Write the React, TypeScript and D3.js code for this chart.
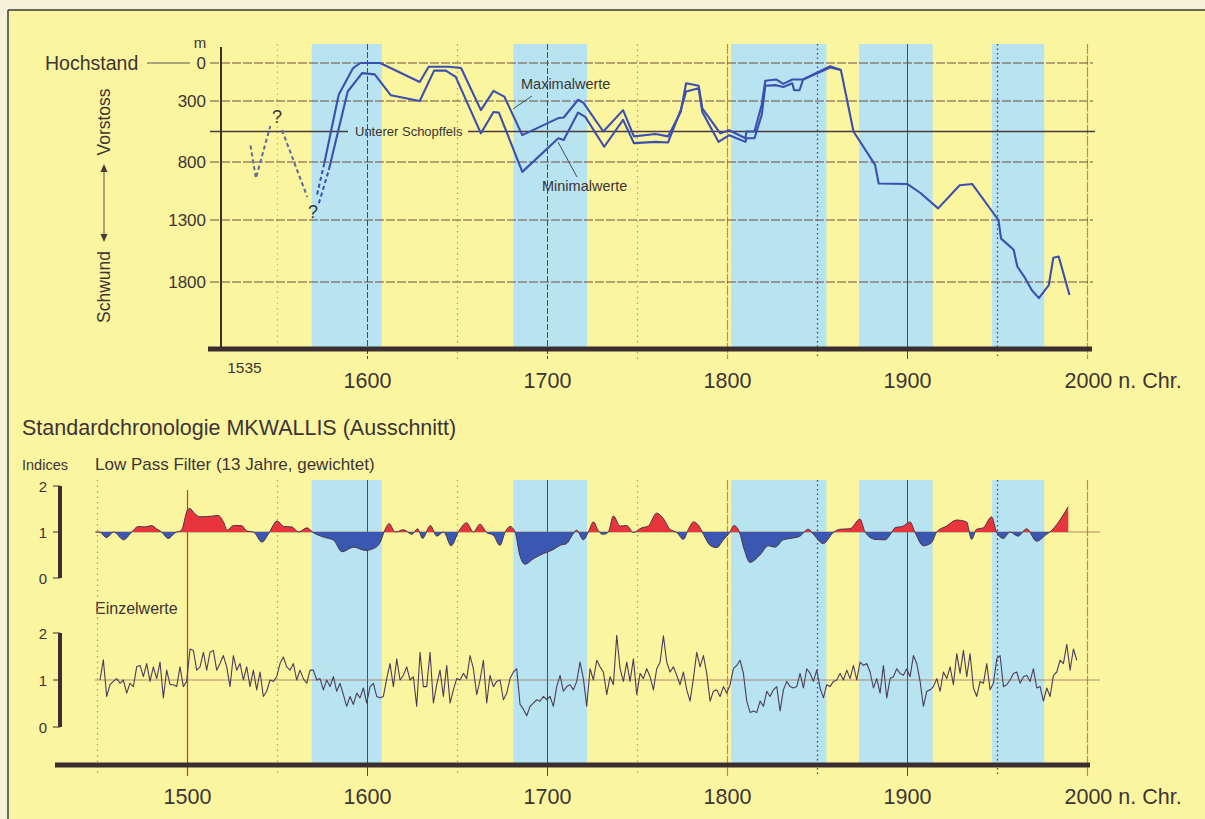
import React from "react";
import * as d3 from "d3";

const W = 1205;
const H = 819;
const FONT = "'Liberation Sans', Arial, Helvetica, sans-serif";
const TXT = "#3b3434";

// Kaltphasen (blaue Bänder), Jahre
const coldPhases: [number, number][] = [
  [1569, 1608], [1681, 1722], [1802, 1855], [1873, 1914], [1947, 1976],
];

// Gletscherstand oben, m unter Hochstand
const depthTicks = [0, 300, 800, 1300, 1800];
const schopffels = 550;
const topYearLabels = [1600, 1700, 1800, 1900, 2000];
const bottomYearLabels = [1500, 1600, 1700, 1800, 1900, 2000];

const earlyA: [number, number][] = [[1535, 665], [1538, 940], [1546, 505]];
const earlyB: [number, number][] = [[1552.5, 538], [1566.5, 1100]];
const maxDashed: [number, number][] = [[1572, 1080], [1576, 810]];
const minDashed: [number, number][] = [[1573, 1155], [1578.5, 870]];

const maxValues: [number, number][] = [
  [1576, 810], [1584, 250], [1592, 40], [1596, 0], [1607, 0], [1629, 150], [1634, 30],
  [1645, 30], [1652, 40], [1663, 375], [1670, 220], [1676, 265], [1686, 580], [1706, 440],
  [1709, 435], [1717, 290], [1720, 315], [1731, 550], [1742, 375], [1748, 590], [1760, 570],
  [1767, 590], [1774, 390], [1777, 160], [1784, 180], [1786, 360], [1796, 565], [1801, 540],
  [1810, 605], [1810.5, 550], [1815, 550], [1819, 330], [1821, 140], [1827, 130], [1831, 165],
  [1836, 130], [1842, 130], [1857, 25], [1863, 55], [1870, 550], [1882, 825], [1884, 985],
  [1900, 990], [1907, 1065], [1917, 1200], [1929, 1000], [1936, 990], [1950.5, 1300],
  [1952, 1450], [1959, 1540], [1961, 1675], [1965, 1760], [1969, 1865], [1973, 1930],
  [1978.5, 1825], [1981, 1605], [1984, 1595], [1990, 1905],
];

const minValues: [number, number][] = [
  [1578.5, 870], [1589, 225], [1597, 80], [1604, 90], [1613, 255], [1629, 300], [1637, 60],
  [1643.5, 60], [1649, 110], [1663, 565], [1670, 390], [1673, 395], [1686, 885], [1706, 605],
  [1709, 620], [1717, 395], [1721, 430], [1731.5, 675], [1742, 455], [1748, 645], [1760, 635],
  [1767, 640], [1774, 375], [1777, 225], [1784, 200], [1786, 390], [1795, 635], [1801, 580],
  [1810, 635], [1810.5, 605], [1815, 605], [1819, 415], [1821, 180], [1827, 175], [1831, 190],
  [1836, 160], [1837, 215], [1840, 215], [1842, 130], [1857, 35], [1863, 55],
];

// Low Pass Filter (13 Jahre, gewichtet)
const lowPass: [number, number][] = [
  [1449, 1.0], [1451, 1.0], [1455, 0.88], [1459, 1.0], [1464.5, 0.83], [1469, 1.0], [1472.7, 1.12],
  [1476.4, 1.11], [1480, 1.14], [1482.8, 1.07], [1485.6, 1.0], [1489.3, 0.86], [1493, 0.98],
  [1496.7, 1.04], [1499.9, 1.47], [1501.3, 1.51], [1504, 1.4], [1507, 1.33], [1512.5, 1.34],
  [1517, 1.36], [1520, 1.22], [1522, 1.04], [1525.5, 1.14], [1530, 1.14], [1533, 1.02], [1536.6, 1.0],
  [1541.4, 0.78], [1545, 0.96], [1549.8, 1.24], [1553.5, 1.12], [1558, 1.11], [1561.7, 1.0],
  [1566.4, 1.09], [1569.7, 0.99], [1575.6, 0.89], [1581.2, 0.82], [1585.8, 0.57], [1592.3, 0.67],
  [1598.8, 0.6], [1603.4, 0.64], [1607.1, 0.78], [1609, 0.98], [1612, 1.18], [1615.4, 1.0],
  [1620, 1.05], [1624.7, 0.95], [1627.8, 1.07], [1630.6, 0.86], [1634.9, 1.14], [1638.5, 0.91],
  [1642.3, 1.0], [1646.5, 0.7], [1650.5, 1.0], [1655.1, 1.2], [1658.8, 1.0], [1662.5, 1.17],
  [1666.2, 0.99], [1669.9, 0.93], [1673.6, 0.71], [1676.4, 0.99], [1679.2, 1.12], [1682, 1.0],
  [1684.7, 0.48], [1687.5, 0.3], [1692.2, 0.42], [1697.7, 0.53], [1703.3, 0.62], [1707, 0.71],
  [1710.7, 0.75], [1713.4, 0.91], [1716.2, 1.04], [1719.9, 0.83], [1722.7, 1.0], [1725.5, 1.22],
  [1728.3, 1.02], [1731, 0.95], [1733.8, 1.0], [1736.6, 1.35], [1740.3, 1.13], [1744, 1.14],
  [1747.7, 0.99], [1752.3, 1.09], [1756, 1.13], [1760.6, 1.41], [1764.4, 1.29], [1768, 1.06],
  [1771.8, 0.99], [1775.5, 0.84], [1778.3, 1.06], [1781, 1.22], [1784, 1.14], [1786.6, 0.95],
  [1790.3, 0.71], [1794, 0.66], [1797.7, 0.83], [1801.4, 1.0], [1803.6, 1.14], [1806.6, 1.0],
  [1809.2, 0.63], [1812.5, 0.34], [1818, 0.5], [1822.7, 0.7], [1826.4, 0.67], [1831, 0.83],
  [1835, 0.86], [1840.2, 0.91], [1844.9, 1.06], [1847.7, 0.95], [1853.2, 0.75], [1858.8, 0.99],
  [1862.5, 1.06], [1868, 1.07], [1873.6, 1.28], [1876.4, 1.0], [1881.9, 0.84], [1887.5, 0.83],
  [1891.2, 0.99], [1893, 1.09], [1897.7, 1.13], [1901.4, 1.22], [1904.1, 1.0], [1908.8, 0.7],
  [1913.4, 0.77], [1916.2, 1.0], [1921.7, 1.13], [1927.3, 1.26], [1932.8, 1.22], [1935.6, 0.84],
  [1938.4, 1.06], [1942.1, 1.09], [1946.7, 1.33], [1949.5, 1.0], [1953.2, 0.86], [1956.9, 1.0],
  [1961.5, 0.91], [1966.2, 1.07], [1971.7, 0.8], [1977.3, 0.95], [1979.1, 1.0], [1989.3, 1.55],
];

const einzelStart = 1451.4;
const einzelStep = 1.852;
const einzel = [
  1.0, 1.43, 0.65, 0.9, 0.97, 1.03, 0.93, 1.0, 0.72, 0.93,
  0.86, 1.28, 1.31, 1.07, 1.35, 0.97, 1.28, 1.03, 1.38, 0.62,
  1.21, 0.9, 0.9, 0.86, 1.28, 0.86, 0.97, 1.66, 1.63, 1.21,
  1.28, 1.59, 1.21, 1.59, 1.63, 1.21, 1.35, 1.52, 1.28, 0.86,
  1.52, 1.21, 1.35, 1.0, 1.28, 0.86, 1.21, 0.79, 1.17, 0.65,
  0.76, 1.0, 0.97, 1.07, 1.35, 1.49, 1.28, 1.21, 1.35, 1.0,
  1.21, 1.03, 0.93, 1.21, 1.21, 1.0, 1.03, 0.79, 1.0, 0.86,
  1.07, 0.76, 0.93, 0.69, 0.44, 0.65, 0.48, 0.72, 0.62, 0.83,
  0.51, 0.86, 0.93, 0.65, 0.62, 0.65, 1.03, 1.35, 0.86, 1.45,
  1.0, 1.1, 1.28, 1.0, 1.07, 0.44, 1.59, 0.86, 0.86, 1.59,
  0.51, 0.9, 1.21, 0.65, 1.31, 0.51, 0.79, 1.03, 1.0, 1.14,
  1.03, 1.52, 1.24, 0.69, 1.0, 1.42, 0.51, 1.1, 0.86, 0.97,
  1.0, 0.58, 0.72, 1.03, 1.17, 1.24, 0.48, 0.38, 0.24, 0.44,
  0.51, 0.58, 0.55, 0.65, 0.58, 0.65, 0.44, 0.86, 1.1, 0.76,
  0.86, 0.9, 0.79, 0.97,
  1.38, 1.03, 0.44, 1.24, 1.0, 1.42, 1.28, 1.17, 0.69, 1.07,
  0.9, 1.95, 1.24, 0.97, 1.38, 0.97, 1.45, 0.69, 1.14, 1.03,
  1.24, 1.07, 0.79, 1.24, 1.38, 1.94, 1.38, 1.17, 1.28, 1.1,
  0.9, 1.17, 0.79, 0.55, 1.03, 1.59, 1.28, 1.52, 1.14, 0.55,
  0.76, 0.79, 0.65, 0.86, 0.72, 0.9, 1.24, 1.31, 1.42, 1.14,
  0.55, 0.31, 0.34, 0.31, 0.55, 0.44, 0.76, 0.65, 0.79, 0.86,
  0.34, 0.79, 0.97, 0.86, 0.83, 0.86, 1.14, 0.83, 1.24, 1.14,
  0.97, 1.21, 0.83, 0.62, 0.9, 0.86, 0.97, 1.0, 1.14, 1.0,
  1.21, 1.03, 1.31, 1.0, 1.38, 1.31, 1.35, 1.17, 0.83, 1.03,
  0.72, 1.31, 0.62, 1.03, 1.07, 1.24, 1.14, 1.1, 1.24, 1.07,
  1.52, 1.35, 0.97, 0.44, 0.76, 0.79, 0.86, 1.03, 0.76, 1.17,
  1.03, 1.28, 0.9, 1.56, 1.14, 1.63, 1.07, 1.56, 0.83, 0.65,
  0.97, 0.93, 1.35, 0.79, 0.93, 1.45, 1.52, 0.86, 0.9, 1.0,
  1.14, 1.17, 0.93, 1.07, 1.1, 0.97, 1.24, 0.83, 0.86, 0.55,
  0.83, 0.65, 1.1, 1.17, 1.42, 1.35, 1.76, 1.21, 1.66, 1.42,
];

// vertikale Gitterlinien: [Jahr, Stil]
const topGrid: [number, string][] = [
  [1550, "dotLight"], [1600, "dark"], [1650, "dotOrange"], [1700, "dark"], [1750, "dotOrange"],
  [1800, "orange"], [1850, "dotDark"], [1900, "darkSolid"], [1950, "dotDark"], [2000, "orange"],
];
const bottomGrid: [number, string][] = [
  [1450, "dotOrange"], [1500, "red"], [1550, "dotOrange"], [1600, "darkSolid"], [1650, "dotOrange"],
  [1700, "darkSolid"], [1750, "dotOrange"], [1800, "orange"], [1850, "dotDark"], [1900, "darkSolid"],
  [1950, "dotDark"], [2000, "orange"],
];

const gridStyle: Record<string, { stroke: string; dash?: string; w: number }> = {
  dotLight: { stroke: "#d9b070", dash: "1.5,4", w: 1.2 },
  dotOrange: { stroke: "#c9905a", dash: "1.5,4", w: 1.2 },
  dotDark: { stroke: "#3e4a6a", dash: "1.5,3", w: 1.3 },
  dark: { stroke: "#3e4a6a", dash: "6,2", w: 1 },
  darkSolid: { stroke: "#4a4a62", w: 1 },
  orange: { stroke: "#c8864a", dash: "10,1.5", w: 1.2 },
  red: { stroke: "#b0403a", w: 1.2 },
};

export default function App() {
  const x = d3.scaleLinear().domain([1500, 2000]).range([187.5, 1087.5]);
  const yTop = d3.scaleLinear().domain([0, 300, 800, 1300, 1800]).range([63, 101, 162, 220, 282]);
  const yLow = d3.scaleLinear().domain([0, 2]).range([578, 486]);
  const yEin = d3.scaleLinear().domain([0, 2]).range([727, 633]);

  const topLine = d3.line<[number, number]>().x(d => x(d[0])).y(d => yTop(d[1]));
  const lowArea = d3.area<[number, number]>()
    .x(d => x(d[0])).y0(yLow(1)).y1(d => yLow(d[1])).curve(d3.curveMonotoneX);
  const lowLine = d3.line<[number, number]>()
    .x(d => x(d[0])).y(d => yLow(d[1])).curve(d3.curveMonotoneX);
  const einLine = d3.line<number>()
    .x((_, i) => x(einzelStart + i * einzelStep)).y(d => yEin(d));

  const blue = "#3a4fae";
  const bandTop = [44, 349];
  const bandBottom = [480, 765];

  return (
    <svg width={W} height={H} style={{ display: "block", fontFamily: FONT }}>
      <style>{"body{margin:0}"}</style>
      <defs>
        <clipPath id="above"><rect x={0} y={0} width={W} height={yLow(1)} /></clipPath>
        <clipPath id="below"><rect x={0} y={yLow(1)} width={W} height={H} /></clipPath>
      </defs>

      {/* Hintergrund und Rahmen */}
      <rect x={0} y={0} width={W} height={H} fill="#f5f1d8" />
      <rect x={8} y={10} width={W} height={H} fill="#fcf5a0" />
      <line x1={8} y1={10} x2={W} y2={10} stroke="#3a3a3a" strokeWidth={1.5} />
      <line x1={8} y1={10} x2={8} y2={H} stroke="#3a3a3a" strokeWidth={1.5} />

      {/* Kaltphasen */}
      {coldPhases.map(([a, b], i) => (
        <g key={"b" + i}>
          <rect x={x(a)} y={bandTop[0]} width={x(b) - x(a)} height={bandTop[1] - bandTop[0]} fill="#b8e4f1" />
          <rect x={x(a)} y={bandBottom[0]} width={x(b) - x(a)} height={bandBottom[1] - bandBottom[0]} fill="#b8e4f1" />
        </g>
      ))}

      {/* ---------- oberes Diagramm ---------- */}
      {topGrid.map(([yr, s]) => {
        const st = gridStyle[s];
        return <line key={"tg" + yr} x1={x(yr)} x2={x(yr)} y1={44} y2={yr >= 1600 ? 359 : 349}
          stroke={st.stroke} strokeWidth={st.w} strokeDasharray={st.dash} />;
      })}
      {depthTicks.map(t => (
        <g key={"dt" + t}>
          <line x1={210} x2={1093} y1={yTop(t)} y2={yTop(t)} stroke="#6e4c3e" strokeWidth={1} strokeDasharray="9,2" />
          <text x={206} y={yTop(t) + 6} textAnchor="end" fontSize={17} fill={TXT}>{t}</text>
        </g>
      ))}
      <line x1={210} x2={348} y1={yTop(schopffels)} y2={yTop(schopffels)} stroke="#4a3a3a" strokeWidth={1.4} />
      <line x1={468} x2={1095} y1={yTop(schopffels)} y2={yTop(schopffels)} stroke="#4a3a3a" strokeWidth={1.4} />
      <text x={355} y={yTop(schopffels) + 4.5} fontSize={13} fill={TXT}>Unterer Schopffels</text>

      <text x={200} y={48} textAnchor="middle" fontSize={15} fill={TXT}>m</text>
      <text x={45} y={70} fontSize={19.5} fill={TXT}>Hochstand</text>
      <line x1={147} x2={190} y1={yTop(0)} y2={yTop(0)} stroke="#555" strokeWidth={1} />
      <text transform="translate(110,122) rotate(-90)" textAnchor="middle" fontSize={17.5} fill={TXT}>Vorstoss</text>
      <text transform="translate(110,287) rotate(-90)" textAnchor="middle" fontSize={17.5} fill={TXT}>Schwund</text>
      <line x1={104} x2={104} y1={170} y2={236} stroke="#6a4a40" strokeWidth={1} />
      <path d="M104,164 L100.5,172 L107.5,172 Z" fill="#4a3a3a" />
      <path d="M104,242 L100.5,234 L107.5,234 Z" fill="#4a3a3a" />

      {/* Achsen oben */}
      <line x1={221} x2={221} y1={47} y2={349} stroke="#3a3030" strokeWidth={2} />
      <line x1={208} x2={1092} y1={349} y2={349} stroke="#3a2e30" strokeWidth={5} />
      <text x={x(1535) - 6} y={373} textAnchor="middle" fontSize={15.5} fill={TXT}>1535</text>
      {topYearLabels.map(yr => (
        <text key={"ty" + yr} x={yr === 2000 ? x(yr) - 23 : x(yr)} y={388} fontSize={21.5}
          textAnchor={yr === 2000 ? "start" : "middle"} fill={TXT}>{yr === 2000 ? "2000 n. Chr." : yr}</text>
      ))}

      {/* frühe, unsichere Stände */}
      <path d={topLine(earlyA) || ""} fill="none" stroke="#5c68a0" strokeWidth={2} strokeDasharray="4,3" />
      <path d={topLine(earlyB) || ""} fill="none" stroke="#5c68a0" strokeWidth={2} strokeDasharray="4,3" />
      <text x={277} y={123} textAnchor="middle" fontSize={18} fill={TXT}>?</text>
      <text x={313} y={218} textAnchor="middle" fontSize={18} fill={TXT}>?</text>
      <path d={topLine(maxDashed) || ""} fill="none" stroke={blue} strokeWidth={2} strokeDasharray="4,3" />
      <path d={topLine(minDashed) || ""} fill="none" stroke={blue} strokeWidth={2} strokeDasharray="4,3" />

      <path d={topLine(minValues) || ""} fill="none" stroke={blue} strokeWidth={2.1} strokeLinejoin="round" />
      <path d={topLine(maxValues) || ""} fill="none" stroke={blue} strokeWidth={2.1} strokeLinejoin="round" />

      <text x={521} y={89} fontSize={14.5} fill={TXT}>Maximalwerte</text>
      <line x1={532} y1={96} x2={513} y2={109} stroke="#4a4a5a" strokeWidth={1} />
      <text x={542} y={191} fontSize={14.5} fill={TXT}>Minimalwerte</text>
      <line x1={558} y1={142} x2={577} y2={177} stroke="#4a4a5a" strokeWidth={1} />

      {/* ---------- unteres Diagramm ---------- */}
      <text x={22} y={435} fontSize={21.5} fill={TXT}>Standardchronologie MKWALLIS (Ausschnitt)</text>
      <text x={22} y={470} fontSize={14.5} fill={TXT}>Indices</text>
      <text x={95} y={470} fontSize={17} fill={TXT}>Low Pass Filter (13 Jahre, gewichtet)</text>
      <text x={95} y={614} fontSize={16} fill={TXT}>Einzelwerte</text>

      {bottomGrid.map(([yr, s]) => {
        const st = gridStyle[s];
        return <line key={"bg" + yr} x1={x(yr)} x2={x(yr)} y1={yr === 1500 ? 490 : 480} y2={776}
          stroke={st.stroke} strokeWidth={st.w} strokeDasharray={st.dash} />;
      })}

      {/* Indexachsen */}
      {[yLow, yEin].map((sc, i) => (
        <g key={"ax" + i}>
          <line x1={60} x2={60} y1={sc(2)} y2={sc(0)} stroke="#3a2e30" strokeWidth={4} />
          {[0, 1, 2].map(v => (
            <g key={v}>
              <line x1={53} x2={60} y1={sc(v)} y2={sc(v)} stroke="#3a2e30" strokeWidth={1} />
              <text x={47} y={sc(v) + 5.5} textAnchor="end" fontSize={15} fill={TXT}>{v}</text>
            </g>
          ))}
        </g>
      ))}

      <line x1={95} x2={1100} y1={yLow(1)} y2={yLow(1)} stroke="#a0705a" strokeWidth={0.8} />
      <path d={lowArea(lowPass) || ""} fill="#e8343c" clipPath="url(#above)" />
      <path d={lowArea(lowPass) || ""} fill="#3a58b2" clipPath="url(#below)" />
      <path d={lowLine(lowPass) || ""} fill="none" stroke="#4a3448" strokeWidth={1} />

      <line x1={95} x2={1100} y1={yEin(1)} y2={yEin(1)} stroke="#a0705a" strokeWidth={0.8} />
      <path d={einLine(einzel) || ""} fill="none" stroke="#4a3c5a" strokeWidth={1.1} strokeLinejoin="round" />

      <line x1={55} x2={1090} y1={765} y2={765} stroke="#3a2e30" strokeWidth={5} />
      {bottomYearLabels.map(yr => (
        <text key={"by" + yr} x={yr === 2000 ? x(yr) - 23 : x(yr)} y={804} fontSize={21.5}
          textAnchor={yr === 2000 ? "start" : "middle"} fill={TXT}>{yr === 2000 ? "2000 n. Chr." : yr}</text>
      ))}
    </svg>
  );
}
